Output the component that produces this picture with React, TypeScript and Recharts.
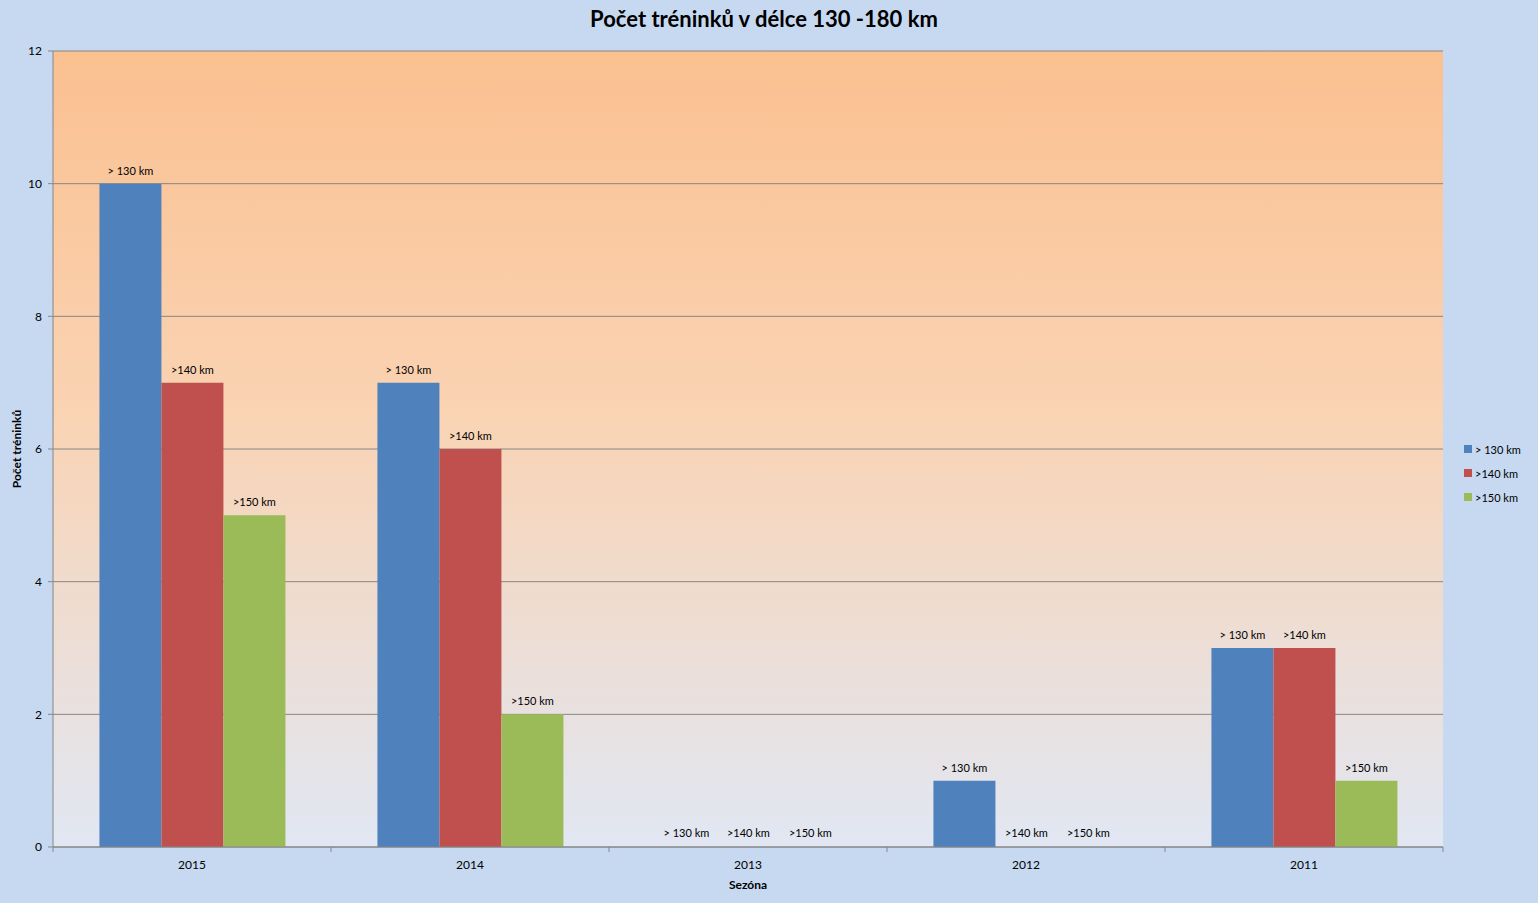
import { Bar, BarChart, CartesianGrid, LabelList, Rectangle, XAxis, YAxis } from "recharts";

// seasons, newest first (as in the sheet)
const seasons = ["2015", "2014", "2013", "2012", "2011"];
const over130 = [10, 7, 0, 1, 3];
const over140 = [7, 6, 0, 0, 3];
const over150 = [5, 2, 0, 0, 1];
const seriesNames = ["> 130 km", ">140 km", ">150 km"];
const seriesColors = ["#4f81bd", "#c0504d", "#9bbb59"];
const yTicks = [0, 2, 4, 6, 8, 10, 12];

const data = seasons.map((season, i) => ({
  season,
  a: over130[i],
  b: over140[i],
  c: over150[i],
}));

const FONT = "Lato, 'Liberation Sans', sans-serif";
const AXIS_GRAY = "#868686";

// category tick: label in the middle, tick marks on the category edges
function SeasonTick(props: any) {
  const { x, y, payload, index } = props;
  const half = payload?.offset ?? 0;
  const last = index === seasons.length - 1;
  return (
    <g>
      <line x1={x - half} x2={x - half} y1={y - 5} y2={y} stroke={AXIS_GRAY} />
      {last && (
        <line x1={x + half} x2={x + half} y1={y - 5} y2={y} stroke={AXIS_GRAY} />
      )}
      <text x={x} y={y + 17} textAnchor="middle" fontSize={12} fill="#000" fontFamily={FONT}>
        {payload.value}
      </text>
    </g>
  );
}

// zero bars get a 1px stub (so their label is still placed) but draw nothing
function BarShape(props: any) {
  if (props.value === 0) return <g />;
  return <Rectangle {...props} />;
}

export default function App() {
  const keys = ["a", "b", "c"];
  return (
    <div
      style={{
        position: "absolute",
        left: 0,
        top: 0,
        width: 1538,
        height: 903,
        background: "#c6d9f1",
        fontFamily: FONT,
        overflow: "hidden",
      }}
    >
      <div
        style={{
          position: "absolute",
          top: 5,
          left: 0,
          width: 1528,
          textAlign: "center",
          fontSize: 22,
          fontWeight: "bold",
          color: "#000",
        }}
      >
        Počet tréninků v délce 130 -180 km
      </div>
      <BarChart
        width={1538}
        height={903}
        data={data}
        margin={{ top: 51, right: 95, left: 0, bottom: 0 }}
        barCategoryGap="16.7%"
        barGap={0}
      >
        <defs>
          <linearGradient id="plotBg" x1="0" y1="0" x2="0" y2="1">
            <stop offset="0%" stopColor="#fac090" />
            <stop offset="45%" stopColor="#fad3b3" />
            <stop offset="100%" stopColor="#e1e7f3" />
          </linearGradient>
        </defs>
        <CartesianGrid vertical={false} stroke={AXIS_GRAY} fill="url(#plotBg)" fillOpacity={1} />
        <XAxis
          dataKey="season"
          height={56}
          axisLine={{ stroke: AXIS_GRAY }}
          tickLine={false}
          tickSize={5}
          tickMargin={0}
          tick={<SeasonTick />}
          interval={0}
          label={{
            value: "Sezóna",
            position: "insideBottom",
            offset: 14,
            fontSize: 12,
            fontWeight: "bold",
            fill: "#000",
            fontFamily: FONT,
          }}
        />
        <YAxis
          width={53}
          domain={[0, 12]}
          ticks={yTicks}
          interval={0}
          axisLine={{ stroke: AXIS_GRAY }}
          tickLine={{ stroke: AXIS_GRAY }}
          tickSize={5}
          tickMargin={6}
          tick={{ fontSize: 12, fill: "#000", fontFamily: FONT }}
          label={{
            value: "Počet tréninků",
            angle: -90,
            position: "insideLeft",
            offset: 17,
            style: { textAnchor: "middle" },
            fontSize: 12,
            fontWeight: "bold",
            fill: "#000",
            fontFamily: FONT,
          }}
        />
        {keys.map((k, i) => (
          <Bar
            key={k}
            dataKey={k}
            name={seriesNames[i]}
            fill={seriesColors[i]}
            minPointSize={1}
            shape={<BarShape />}
            isAnimationActive={false}
          >
            <LabelList
              dataKey={k}
              position="top"
              offset={9}
              formatter={() => seriesNames[i]}
              fontSize={11}
              fill="#000"
              fontFamily={FONT}
            />
          </Bar>
        ))}
      </BarChart>
      <div style={{ position: "absolute", left: 1464, top: 437, fontSize: 11, color: "#000" }}>
        {seriesNames.map((n, i) => (
          <div key={n} style={{ display: "flex", alignItems: "center", height: 24 }}>
            <span
              style={{
                display: "inline-block",
                width: 8,
                height: 8,
                background: seriesColors[i],
                marginRight: 3,
              }}
            />
            {n}
          </div>
        ))}
      </div>
    </div>
  );
}
